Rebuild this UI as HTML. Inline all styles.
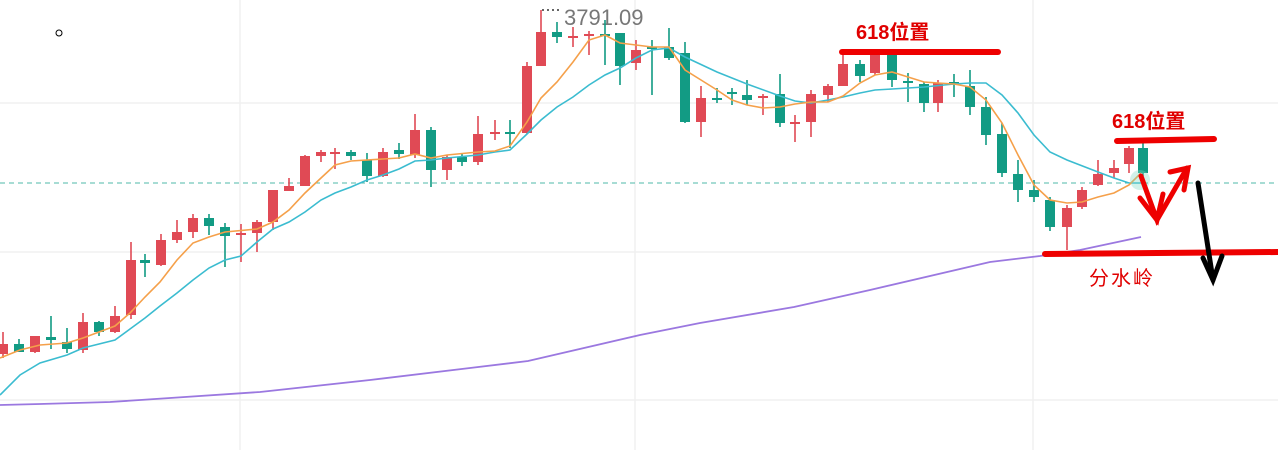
<!DOCTYPE html>
<html><head><meta charset="utf-8"><style>
html,body{margin:0;padding:0;background:#fff;}
svg{display:block}
</style></head><body>
<svg width="1278" height="450" viewBox="0 0 1278 450" xmlns="http://www.w3.org/2000/svg">
<rect width="1278" height="450" fill="#fff"/>
<g stroke="#f0f0f0" stroke-width="1.5">
<line x1="0" y1="103" x2="1278" y2="103"/><line x1="0" y1="252" x2="1278" y2="252"/><line x1="0" y1="400" x2="1278" y2="400"/>
<line x1="240" y1="0" x2="240" y2="450"/><line x1="635" y1="0" x2="635" y2="450"/><line x1="1033" y1="0" x2="1033" y2="450"/>
</g>
<line x1="0" y1="183" x2="1278" y2="183" stroke="#4fb8a8" stroke-width="1" stroke-dasharray="5,4"/>
<circle cx="59" cy="33" r="3" fill="none" stroke="#000" stroke-width="1"/>
<line x1="542" y1="10" x2="561" y2="10" stroke="#333" stroke-width="1.5" stroke-dasharray="2,3"/>
<text x="564" y="25" font-family="Liberation Sans, sans-serif" font-size="22" fill="#777">3791.09</text>

<g fill="none" stroke="#e04a55" stroke-width="1.6">
<path d="M3 332V358M35 336V353M83 313V353M115 306V333M131 242V319M161 234V266M177 220V243M193 214V238M241 224V262M257 220V252M273 190V230M289 178V191M305 155V186M321 150V162M335 148V169M383 148V177M415 114V158M447 155V180M478 116V165M495 120V140M527 62V134M541 10V66M573 27V47M589 31V55M636 40V70M701 86V137M763 94V115M795 115V142M811 90V137M828 84V102M843 55V86M875 55V75M938 80V112M1067 205V250M1082 187V209M1098 160V186M1114 160V178M1129 146V173"/>
</g>
<g fill="#e04a55">
<rect x="-2" y="344" width="10" height="10"/><rect x="30" y="336" width="10" height="16"/><rect x="78" y="322" width="10" height="28"/><rect x="110" y="316" width="10" height="16"/><rect x="126" y="260" width="10" height="55"/><rect x="156" y="240" width="10" height="25"/><rect x="172" y="232" width="10" height="8"/><rect x="188" y="218" width="10" height="14"/><rect x="236" y="233" width="10" height="2"/><rect x="252" y="222" width="10" height="11"/><rect x="268" y="190" width="10" height="32"/><rect x="284" y="186" width="10" height="5"/><rect x="300" y="156" width="10" height="30"/><rect x="316" y="152" width="10" height="4"/><rect x="330" y="152" width="10" height="2"/><rect x="378" y="152" width="10" height="24"/><rect x="410" y="130" width="10" height="25"/><rect x="442" y="157" width="10" height="13"/><rect x="473" y="134" width="10" height="28"/><rect x="490" y="132" width="10" height="2"/><rect x="522" y="66" width="10" height="67"/><rect x="536" y="32" width="10" height="34"/><rect x="568" y="36" width="10" height="2"/><rect x="584" y="34" width="10" height="2"/><rect x="631" y="50" width="10" height="13"/><rect x="696" y="98" width="10" height="24"/><rect x="758" y="96" width="10" height="2"/><rect x="790" y="122" width="10" height="2"/><rect x="806" y="94" width="10" height="28"/><rect x="823" y="86" width="10" height="9"/><rect x="838" y="64" width="10" height="22"/><rect x="870" y="55" width="10" height="18"/><rect x="933" y="83" width="10" height="20"/><rect x="1062" y="208" width="10" height="19"/><rect x="1077" y="190" width="10" height="17"/><rect x="1093" y="174" width="10" height="11"/><rect x="1109" y="168" width="10" height="5"/><rect x="1124" y="148" width="10" height="16"/>
</g>
<g fill="none" stroke="#129b84" stroke-width="1.6">
<path d="M19 339V352M51 316V349M67 328V353M99 321V336M145 254V277M209 214V235M225 223V267M351 150V160M367 153V182M399 143V159M431 127V187M462 153V166M510 120V148M557 22V43M605 20V65M620 33V85M652 40V95M669 28V60M685 42V123M717 88V103M732 88V105M747 80V105M780 74V127M860 60V82M892 55V87M908 73V102M924 82V112M954 74V97M970 70V115M986 97V145M1002 123V177M1018 160V202M1034 180V202M1050 197V231M1143 143V176"/>
</g>
<g fill="#129b84">
<rect x="14" y="344" width="10" height="8"/><rect x="46" y="337" width="10" height="3"/><rect x="62" y="342" width="10" height="7"/><rect x="94" y="322" width="10" height="10"/><rect x="140" y="260" width="10" height="3"/><rect x="204" y="218" width="10" height="8"/><rect x="220" y="227" width="10" height="9"/><rect x="346" y="152" width="10" height="4"/><rect x="362" y="160" width="10" height="16"/><rect x="394" y="150" width="10" height="4"/><rect x="426" y="130" width="10" height="40"/><rect x="457" y="157" width="10" height="5"/><rect x="505" y="132" width="10" height="2"/><rect x="552" y="32" width="10" height="5"/><rect x="600" y="34" width="10" height="2"/><rect x="615" y="33" width="10" height="33"/><rect x="647" y="47" width="10" height="2"/><rect x="664" y="47" width="10" height="11"/><rect x="680" y="53" width="10" height="69"/><rect x="712" y="98" width="10" height="2"/><rect x="727" y="92" width="10" height="2"/><rect x="742" y="95" width="10" height="5"/><rect x="775" y="94" width="10" height="29"/><rect x="855" y="64" width="10" height="12"/><rect x="887" y="55" width="10" height="25"/><rect x="903" y="81" width="10" height="2"/><rect x="919" y="84" width="10" height="19"/><rect x="949" y="82" width="10" height="2"/><rect x="965" y="86" width="10" height="21"/><rect x="981" y="107" width="10" height="28"/><rect x="997" y="134" width="10" height="39"/><rect x="1013" y="174" width="10" height="16"/><rect x="1029" y="190" width="10" height="7"/><rect x="1045" y="200" width="10" height="27"/><rect x="1138" y="148" width="10" height="25"/>
</g>

<polyline fill="none" stroke="#9b78e0" stroke-width="1.8" points="0,405 40,404 110,402 170,398 260,392 370,380 470,368 528,361 640,335 700,323 794,307 870,290 990,262 1040,256 1080,250 1141,237"/>
<polyline fill="none" stroke="#3bbcd0" stroke-width="1.6" points="0,395 20,375 40,363 67,355 83,348 115,340 130,329 145,318 160,306 177,293 193,280 209,268 225,260 241,256 257,242 273,229 289,222 305,212 321,200 335,193 351,187 367,180 383,175 399,169 415,161 431,160 447,158 478,155 495,152 510,150 527,134 541,120 557,107 573,97 589,85 605,75 620,68 636,58 652,50 669,48 685,57 717,72 747,84 780,96 795,101 811,103 828,100 843,97 860,93 875,90 892,89 908,88 924,87 954,84 970,83 986,83 1002,95 1018,113 1034,135 1050,152 1067,160 1098,172 1114,178 1129,183 1141,183"/>
<polyline fill="none" stroke="#f5a04a" stroke-width="1.6" points="0,358 20,350 40,345 67,343 83,338 115,326 130,313 145,297 160,282 177,260 193,243 209,237 225,232 257,229 273,222 289,210 305,193 321,178 335,165 351,161 383,159 399,158 415,154 431,158 447,155 478,152 495,151 510,146 527,122 541,98 557,82 573,62 589,40 605,35 620,43 636,45 652,47 669,47 685,70 701,80 717,90 732,100 747,105 763,108 780,107 795,104 811,102 828,102 843,96 860,83 875,75 892,72 908,77 924,82 938,83 954,84 970,87 986,100 1002,123 1018,155 1034,185 1050,200 1067,203 1082,202 1098,197 1114,193 1129,185 1141,173"/>
<circle cx="1140" cy="180" r="10" fill="#7fd8c0" opacity="0.35"/>
<g stroke="#ee0000" stroke-linecap="round" fill="none">
<line x1="842" y1="52" x2="998" y2="52" stroke-width="6"/>
<line x1="1117" y1="141" x2="1214" y2="139" stroke-width="6"/>
<line x1="1045" y1="254" x2="1278" y2="252" stroke-width="6"/>
<polyline points="1141,176 1157,220 1187,168" stroke-width="5"/>
<polyline points="1140,198 1157,220 1163,194" stroke-width="5"/>
<polyline points="1170,172 1188,168 1184,190" stroke-width="5"/>
</g>
<g stroke="#000" stroke-linecap="round" fill="none" stroke-width="5">
<line x1="1198" y1="183" x2="1213" y2="280"/>
<polyline points="1203,258 1213,280 1222,256"/>
</g>
<text x="856" y="39" font-family="Liberation Sans, 'Noto Sans CJK SC', sans-serif" font-size="20" font-weight="bold" fill="#e00000">618位置</text>
<text x="1112" y="128" font-family="Liberation Sans, 'Noto Sans CJK SC', sans-serif" font-size="20" font-weight="bold" fill="#e00000">618位置</text>
<text x="1089" y="285" font-family="Liberation Sans, 'Noto Sans CJK SC', sans-serif" font-size="20" fill="#e00000" letter-spacing="2">分水岭</text>
</svg>
</body></html>
